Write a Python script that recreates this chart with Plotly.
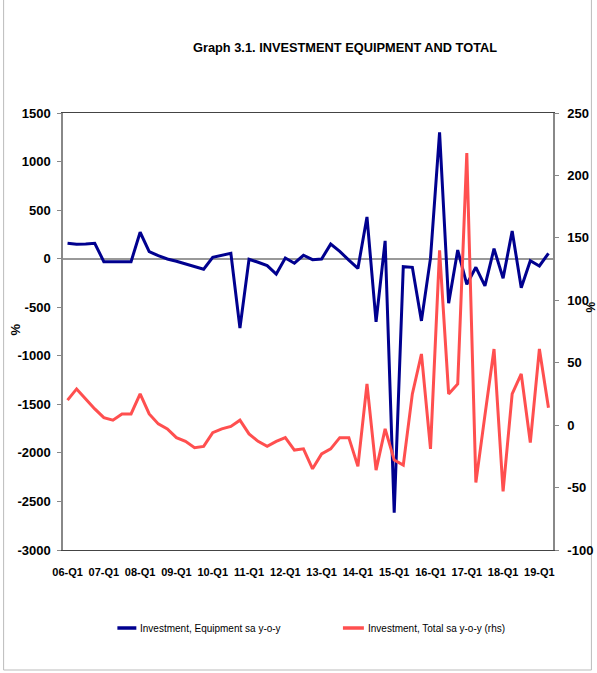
import plotly.graph_objects as go

years = list(range(6, 20))
quarters = [f"{y:02d}-Q{q}" for y in years for q in range(1, 5)][:54]
tick_labels = [f"{y:02d}-Q1" for y in years]

equipment = [159, 148, 151, 159, -31, -31, -31, -31, 272, 72, 31, -3, -27, -55, -75, -109,
             14, 38, 55, -715, -6, -37, -72, -158, 7, -47, 35, -10, -3, 150, 75, -15, -100,
             430, -650, 183, -2615, -82, -89, -641, 5, 1300, -459, 88, -264, -89, -281, 103,
             -202, 285, -299, -21, -75, 55]
total = [20, 29, 21, 13, 6, 4, 9, 9, 25, 9, 1, -3, -10, -13, -18, -17, -6, -3, -1, 4,
         -7, -13, -17, -13, -10, -20, -19, -35, -23, -19, -10, -10, -33, 33, -36, -3, -28,
         -32, 25, 57, -19, 140, 25, 33, 218, -46, 8, 61, -53, 25, 41, -14, 61, 14]

left_ticks = [1500, 1000, 500, 0, -500, -1000, -1500, -2000, -2500, -3000]
right_ticks = [250, 200, 150, 100, 50, 0, -50, -100]

series_names = ["Investment, Equipment sa y-o-y", "Investment, Total sa y-o-y (rhs)"]
series_colors = ["#00008F", "#FF4F4F"]

FONT = "Liberation Sans, Arial, sans-serif"

FW, FH = 597, 673
# plot area in window pixels
L, R, T, B = 62.5, 553.5, 113, 550
W, H = R - L, B - T


def px(x):
    return (x - L) / W


def py(y):
    return (B - y) / H


fig = go.Figure()
fig.add_trace(go.Scatter(x=quarters, y=equipment, mode="lines", name=series_names[0],
                         line=dict(color=series_colors[0], width=3)))
fig.add_trace(go.Scatter(x=quarters, y=total, mode="lines", yaxis="y2", name=series_names[1],
                         line=dict(color=series_colors[1], width=3)))

shapes = [dict(type="rect", xref="paper", yref="paper",
               x0=px(3), x1=px(592), y0=py(670), y1=py(-5),
               line=dict(color="#BBBBBB", width=1), layer="below")]
annotations = [
    dict(text="<b>Graph 3.1. INVESTMENT EQUIPMENT AND TOTAL</b>",
         xref="paper", yref="paper", x=px(345), y=py(48),
         xanchor="center", yanchor="middle", showarrow=False,
         font=dict(size=12.8, family=FONT)),
    dict(text="<b>%</b>", xref="paper", yref="paper", x=px(14), y=py(330),
         xanchor="center", yanchor="middle", showarrow=False, textangle=-90,
         font=dict(size=13, family=FONT)),
    dict(text="<b>%</b>", xref="paper", yref="paper", x=px(592), y=py(307),
         xanchor="center", yanchor="middle", showarrow=False, textangle=-90,
         font=dict(size=12, family=FONT)),
]

# manual legend
leg_y = py(628)
for (x0, x1, tx), name, col in zip([(117, 136, 138), (343, 364, 366)], series_names, series_colors):
    shapes.append(dict(type="line", xref="paper", yref="paper", x0=px(x0), x1=px(x1),
                       y0=leg_y, y1=leg_y, line=dict(color=col, width=3.5)))
    annotations.append(dict(text=name, xref="paper", yref="paper", x=px(tx), y=leg_y,
                            xanchor="left", yanchor="middle", showarrow=False,
                            font=dict(size=10, family=FONT)))

fig.update_layout(
    width=FW, height=FH,
    margin=dict(l=L, r=FW - R, t=T, b=FH - B, autoexpand=False),
    paper_bgcolor="white", plot_bgcolor="white",
    font=dict(family=FONT, color="black"),
    showlegend=False,
    xaxis=dict(type="category", range=[-0.5, 53.5], tickmode="array",
               tickvals=tick_labels, ticktext=[f"<b>{t}</b>" for t in tick_labels],
               tickfont=dict(size=11, family=FONT),
               ticks="outside", ticklen=12, tickcolor="rgba(0,0,0,0)",
               showgrid=False, showline=True, linecolor="#444", linewidth=1.2, mirror=True,
               tickangle=0, zeroline=False, automargin=False),
    yaxis=dict(range=[-3000, 1500], tickmode="array", tickvals=left_ticks,
               ticktext=[f"<b>{v}</b>" for v in left_ticks],
               tickfont=dict(size=13, family=FONT),
               ticks="outside", ticklen=4, tickcolor="#888", ticklabelstandoff=4,
               showgrid=False, showline=True, linecolor="#888", linewidth=1.5,
               zeroline=True, zerolinecolor="#999", zerolinewidth=1.5, automargin=False),
    yaxis2=dict(range=[-100, 250], tickmode="array", tickvals=right_ticks,
                ticktext=[f"<b>{v}</b>" for v in right_ticks],
                overlaying="y", side="right",
                tickfont=dict(size=13, family=FONT),
                ticks="outside", ticklen=4, tickcolor="#888", ticklabelstandoff=6,
                showgrid=False, showline=True, linecolor="#888", linewidth=1.5,
                zeroline=False, automargin=False),
    annotations=annotations,
    shapes=shapes,
)

fig.write_html("out.html",
               config={"displayModeBar": False},
               post_script="document.body.style.margin='0';"
                           "document.documentElement.style.overflow='hidden';"
                           "document.body.style.overflow='hidden';")
